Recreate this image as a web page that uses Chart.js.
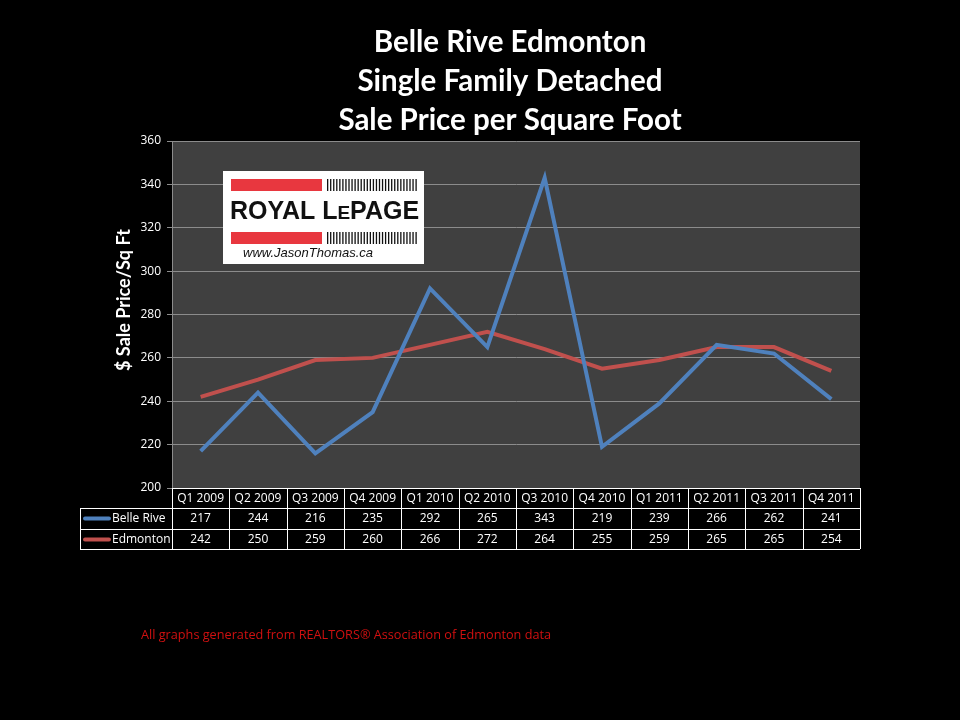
<!DOCTYPE html>
<html>
<head>
<meta charset="utf-8">
<script src="https://cdn.jsdelivr.net/npm/chart.js@4/dist/chart.umd.min.js"></script>
<style>
  html, body { margin: 0; padding: 0; background: #000; }
  #wrap { width: 960px; height: 720px; }
</style>
</head>
<body>
<div id="wrap"><canvas id="priceChart" width="960" height="720"></canvas></div>
<script>
// Data
const quarters = ['Q1 2009', 'Q2 2009', 'Q3 2009', 'Q4 2009', 'Q1 2010', 'Q2 2010',
                  'Q3 2010', 'Q4 2010', 'Q1 2011', 'Q2 2011', 'Q3 2011', 'Q4 2011'];
const belleRive = [217, 244, 216, 235, 292, 265, 343, 219, 239, 266, 262, 241];
const edmonton = [242, 250, 259, 260, 266, 272, 264, 255, 259, 265, 265, 254];
const titleLines = ['Belle Rive Edmonton', 'Single Family Detached', 'Sale Price per Square Foot'];
const yTitle = '$ Sale Price/Sq Ft';
const footNote = 'All graphs generated from REALTORS\u00AE Association of Edmonton data';

const FONT = 'Lato, "Open Sans", sans-serif';

// draws plot background, titles, logo, data table and footer
const decorations = {
    id: 'decorations',
    beforeDraw(chart) {
        const { ctx, chartArea: a } = chart;
        ctx.save();
        ctx.fillStyle = '#000';
        ctx.fillRect(0, 0, chart.width, chart.height);
        ctx.fillStyle = '#404040';
        ctx.fillRect(a.left, a.top, a.right - a.left, a.bottom - a.top);
        ctx.restore();
    },
    afterDatasetsDraw(chart) {
        const { ctx, chartArea: a } = chart;
        const x = chart.scales.x;
        ctx.save();

        // main title
        ctx.fillStyle = '#fff';
        ctx.textAlign = 'center';
        ctx.textBaseline = 'middle';
        ctx.font = 'bold 29.5px ' + FONT;
        titleLines.forEach((t, i) => ctx.fillText(t, 510, 42 + i * 39));

        // y axis title
        ctx.save();
        ctx.translate(124, 300);
        ctx.rotate(-Math.PI / 2);
        ctx.font = 'bold 18px ' + FONT;
        ctx.fillText(yTitle, 0, 0);
        ctx.restore();

        // logo
        ctx.fillStyle = '#fff';
        ctx.fillRect(223, 171, 201, 93);
        ctx.fillStyle = '#e8373f';
        ctx.fillRect(231, 179, 91, 12);
        ctx.fillRect(231, 232, 91, 12);
        ctx.fillStyle = '#111';
        for (let i = 0; i < 30; i++) {
            ctx.fillRect(327 + i * 3.05, 179, 1.3, 12);
            ctx.fillRect(327 + i * 3.05, 232, 1.3, 12);
        }
        ctx.textAlign = 'left';
        ctx.font = 'bold 25px "Liberation Sans", Arial, sans-serif';
        ctx.fillText('ROYAL L', 230, 212);
        let w = ctx.measureText('ROYAL L').width;
        ctx.font = 'bold 19px "Liberation Sans", Arial, sans-serif';
        ctx.fillText('E', 230 + w, 214);
        w += ctx.measureText('E').width;
        ctx.font = 'bold 25px "Liberation Sans", Arial, sans-serif';
        ctx.fillText('PAGE', 230 + w, 212);
        ctx.font = 'italic 13px "Liberation Sans", Arial, sans-serif';
        ctx.fillText('www.JasonThomas.ca', 243, 253);

        // data table
        const colW = (a.right - a.left) / quarters.length;
        const rowTop = [a.bottom, a.bottom + 20, a.bottom + 41];
        const rowBot = a.bottom + 61;
        const labelLeft = 80;
        ctx.strokeStyle = '#fff';
        ctx.lineWidth = 1;
        ctx.beginPath();
        ctx.moveTo(a.left, rowTop[0] + 0.5); ctx.lineTo(a.right, rowTop[0] + 0.5);
        ctx.moveTo(labelLeft, rowTop[1] + 0.5); ctx.lineTo(a.right, rowTop[1] + 0.5);
        ctx.moveTo(labelLeft, rowTop[2] + 0.5); ctx.lineTo(a.right, rowTop[2] + 0.5);
        ctx.moveTo(labelLeft, rowBot + 0.5); ctx.lineTo(a.right, rowBot + 0.5);
        ctx.moveTo(labelLeft + 0.5, rowTop[1]); ctx.lineTo(labelLeft + 0.5, rowBot);
        for (let i = 0; i <= quarters.length; i++) {
            const cx = Math.round(a.left + i * colW) + 0.5;
            ctx.moveTo(cx, rowTop[0]); ctx.lineTo(cx, rowBot);
        }
        ctx.stroke();

        ctx.fillStyle = '#fff';
        ctx.textAlign = 'center';
        ctx.textBaseline = 'middle';
        ctx.font = '12px "Open Sans", sans-serif';
        const rows = [belleRive, edmonton];
        quarters.forEach((q, i) => {
            const cx = x.getPixelForValue(i);
            ctx.fillText(q, cx, rowTop[0] + 10.5);
            rows.forEach((r, j) => ctx.fillText(String(r[i]), cx, rowTop[j + 1] + 10.5));
        });
        chart.data.datasets.forEach((ds, j) => {
            const cy = rowTop[j + 1] + 10.5;
            ctx.strokeStyle = ds.borderColor;
            ctx.lineWidth = 4;
            ctx.lineCap = 'round';
            ctx.beginPath();
            ctx.moveTo(85, cy); ctx.lineTo(109, cy);
            ctx.stroke();
            ctx.fillStyle = '#fff';
            ctx.textAlign = 'left';
            ctx.fillText(ds.label, 112, cy);
        });

        // footer
        ctx.fillStyle = '#d01010';
        ctx.textAlign = 'left';
        ctx.font = '12.7px "Open Sans", sans-serif';
        ctx.fillText(footNote, 141, 635);
        ctx.restore();
    }
};

new Chart(document.getElementById('priceChart'), {
    type: 'line',
    data: {
        labels: quarters,
        datasets: [{
            label: 'Belle Rive',
            data: belleRive,
            borderColor: '#4f81bd',
            borderWidth: 4,
            pointRadius: 0,
            tension: 0
        }, {
            label: 'Edmonton',
            data: edmonton,
            borderColor: '#c0504d',
            borderWidth: 4,
            pointRadius: 0,
            tension: 0
        }]
    },
    options: {
        responsive: false,
        animation: false,
        layout: { padding: { left: 112, right: 100, top: 141, bottom: 232 } },
        plugins: { legend: { display: false }, title: { display: false }, tooltip: { enabled: false } },
        scales: {
            x: { display: false, offset: true },
            y: {
                min: 200,
                max: 360,
                afterFit: (s) => { s.width = 60; },
                ticks: { stepSize: 20, color: '#fff', font: { size: 12, family: '"Open Sans", sans-serif' }, padding: 6 },
                grid: { color: '#8c8c8c', lineWidth: 1, tickLength: 5, tickColor: '#8c8c8c' },
                border: { color: '#8c8c8c' }
            }
        }
    },
    plugins: [decorations]
});
</script>
</body>
</html>
